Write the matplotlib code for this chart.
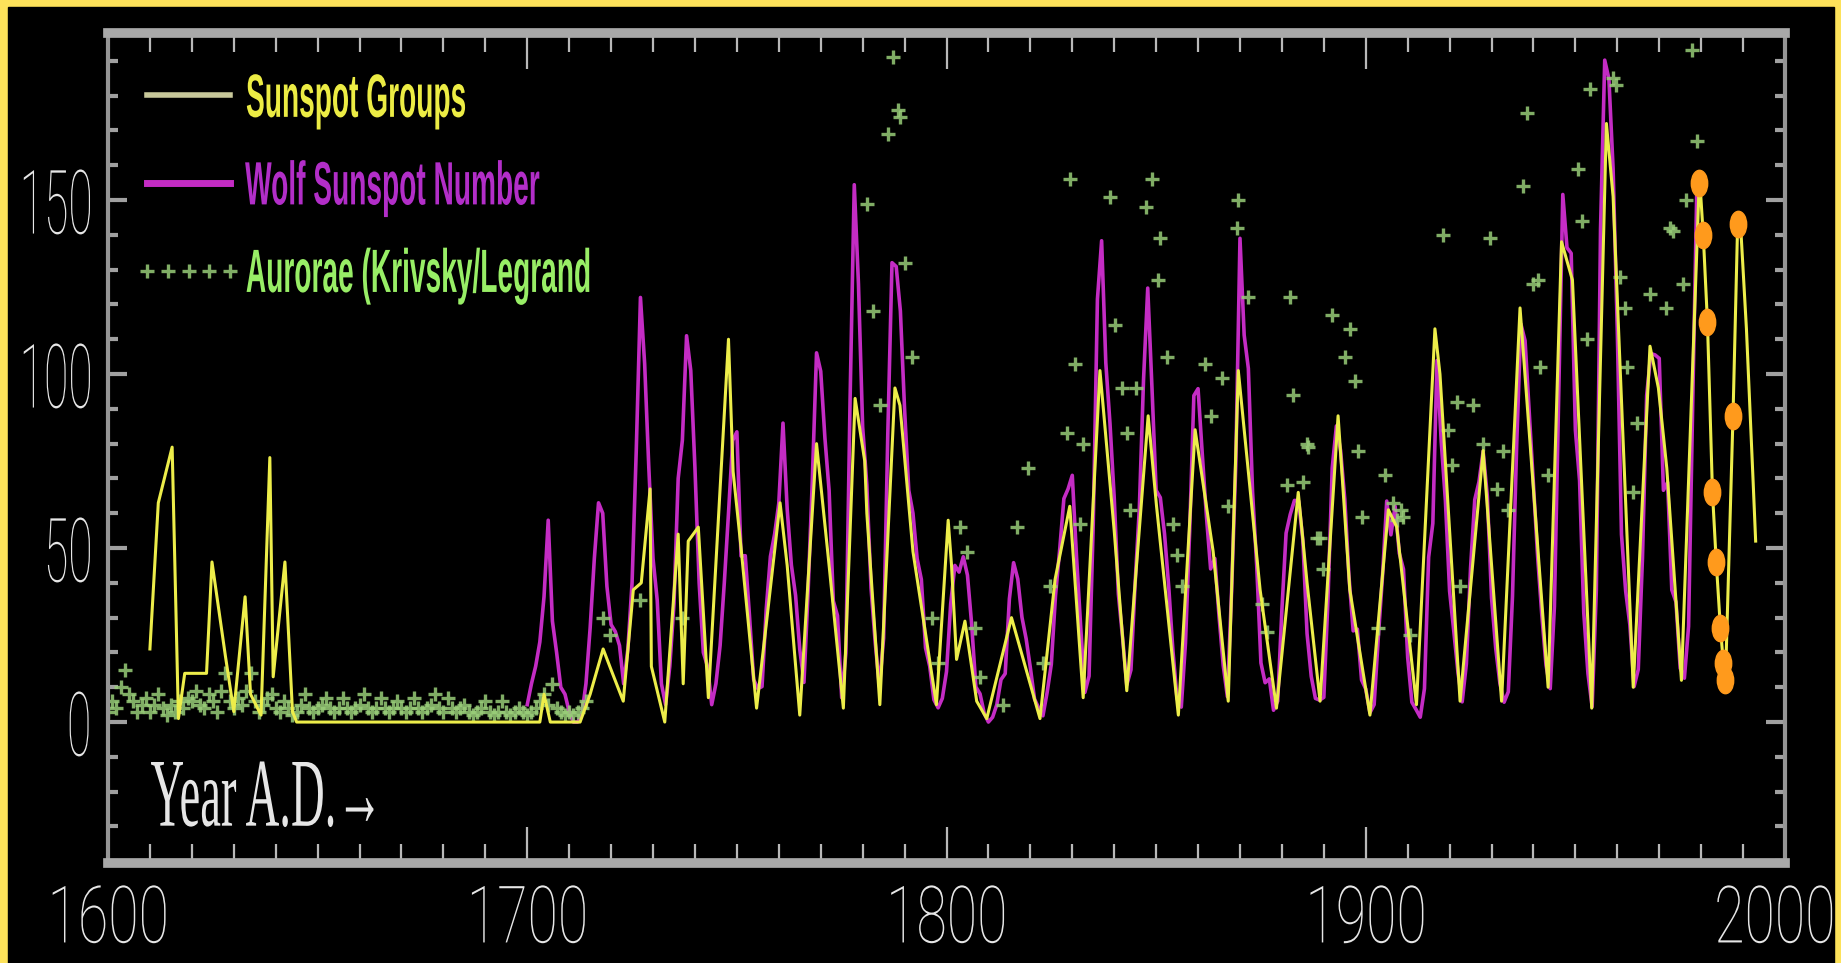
import matplotlib
matplotlib.use('Agg')
import matplotlib.pyplot as plt
from matplotlib import font_manager, patheffects
from matplotlib.patches import Rectangle
from matplotlib.path import Path
from matplotlib.transforms import Affine2D

# Wolf sunspot number, yearly means
wolf_years = list(range(1700, 1980))
wolf_values = [
    5, 11, 16, 23, 36, 58, 29, 20, 10, 8,
    3, 0, 0, 2, 11, 27, 47, 63, 60, 39,
    28, 26, 22, 11, 21, 40, 78, 122, 103, 73,
    47, 35, 11, 5, 16, 34, 70, 81, 111, 101,
    73, 40, 20, 16, 5, 11, 22, 40, 60, 80.9,
    83.4, 47.7, 47.8, 30.7, 12.2, 9.6, 10.2, 32.4, 47.6, 54.0,
    62.9, 85.9, 61.2, 45.1, 36.4, 20.9, 11.4, 37.8, 69.8, 106.1,
    100.8, 81.6, 66.5, 34.8, 30.6, 7.0, 19.8, 92.5, 154.4, 125.9,
    84.8, 68.1, 38.5, 22.8, 10.2, 24.1, 82.9, 132.0, 130.9, 118.1,
    89.9, 66.6, 60.0, 46.9, 41.0, 21.3, 16.0, 6.4, 4.1, 6.8,
    14.5, 34.0, 45.0, 43.1, 47.5, 42.2, 28.1, 10.1, 8.1, 2.5,
    0.0, 1.4, 5.0, 12.2, 13.9, 35.4, 45.8, 41.1, 30.1, 23.9,
    15.6, 6.6, 4.0, 1.8, 8.5, 16.6, 36.3, 49.6, 64.2, 67.0,
    70.9, 47.8, 27.5, 8.5, 13.2, 56.9, 121.5, 138.3, 103.2, 85.7,
    64.6, 36.7, 24.2, 10.7, 15.0, 40.1, 61.5, 98.5, 124.7, 96.3,
    66.6, 64.5, 54.1, 39.0, 20.6, 6.7, 4.3, 22.7, 54.8, 93.8,
    95.8, 77.2, 59.1, 44.0, 47.0, 30.5, 16.3, 7.3, 37.6, 74.0,
    139.0, 111.2, 101.6, 66.2, 44.7, 17.0, 11.3, 12.4, 3.4, 6.0,
    32.3, 54.3, 59.7, 63.7, 63.5, 52.2, 25.4, 13.1, 6.8, 6.3,
    7.1, 35.6, 73.0, 85.1, 78.0, 64.0, 41.8, 26.2, 26.7, 12.1,
    9.5, 2.7, 5.0, 24.4, 42.0, 63.5, 53.8, 62.0, 48.5, 43.9,
    18.6, 5.7, 3.6, 1.4, 9.6, 47.4, 57.1, 103.9, 80.6, 63.6,
    37.6, 26.1, 14.2, 5.8, 16.7, 44.3, 63.9, 69.0, 77.8, 64.9,
    35.7, 21.2, 11.1, 5.7, 8.7, 36.1, 79.7, 114.4, 109.6, 88.8,
    67.8, 47.5, 30.6, 16.3, 9.6, 33.2, 92.6, 151.6, 136.3, 134.7,
    83.9, 69.4, 31.5, 13.9, 4.4, 38.0, 141.7, 190.2, 184.8, 159.0,
    112.3, 53.9, 37.6, 27.9, 10.2, 15.1, 47.0, 93.8, 105.9, 105.5,
    104.5, 66.6, 68.9, 38.0, 34.5, 15.5, 12.6, 27.5, 92.5, 155.4,
]

# sunspot groups (turning points)
group_years = [
    1610, 1612, 1615.3, 1616.8, 1618.3, 1623.5, 1624.8, 1628, 1630, 1632.7,
    1634, 1636.5, 1638.6, 1639.4, 1642.2, 1644, 1645, 1703, 1704, 1705.5,
    1712.6, 1715, 1718.1, 1720, 1722.9, 1725.3, 1727.2, 1729.3, 1729.6, 1732.8,
    1736, 1737.2, 1738.4, 1740.8, 1743.2, 1748, 1749.1, 1751, 1754.7,
    1757, 1760.3, 1762, 1765, 1769, 1772, 1775.4, 1778.2, 1780.5, 1781,
    1784.1, 1787.7, 1788.9, 1792, 1797.6, 1800.4, 1801.2, 1802.4, 1804.4, 1807.2, 1809.6,
    1815.5, 1822.3, 1825.9, 1829.4, 1832.6, 1836.6, 1840, 1843, 1848.1, 1850.1,
    1855.3, 1859.3, 1863.6, 1867.2, 1869.6, 1874.8, 1878.7, 1883.9, 1886, 1889.1,
    1893.4, 1896.2, 1901, 1905.4, 1907.4, 1912.1, 1916.5, 1917.7, 1922.5, 1928,
    1932.4, 1936.8, 1943.5, 1946.7, 1949.3, 1953.9, 1957.4, 1959, 1963.8, 1967.8,
    1969.8, 1971.8, 1975.3, 1979.6, 1980.5, 1981.5, 1982.7, 1983.6, 1984.6, 1985.3,
    1985.8, 1987.6, 1988.7, 1989.3, 1990.8, 1992.4, 1993,
]
group_values = [
    21, 63, 79, 1, 14, 14, 46, 19, 3, 36,
    8, 2, 76, 13, 46, 3, 0, 0, 8, 0,
    0, 8, 21, 15, 6, 38, 40, 67, 16, 0,
    54, 11, 52, 56, 7, 110, 72, 50, 4,
    28, 63, 45, 2, 80, 45, 4, 93, 75, 60,
    5, 96, 91, 49, 5, 58, 45, 18, 29, 6, 1,
    30, 1, 41, 62, 7, 101, 55, 9, 88, 62,
    2, 84, 49, 6, 101, 38, 4, 66, 40, 6,
    88, 38, 2, 61, 56, 5, 113, 100, 6, 78,
    6, 119, 10, 138, 127, 4, 172, 151, 10, 108,
    96, 73, 12, 157, 140, 115, 66, 46, 27, 17,
    12, 88, 143, 145, 113, 69, 52,
]

# aurorae counts (Krivsky/Legrand)
aurora_years = list(range(1600, 1715)) + [
    1718, 1719.7, 1726.9, 1736.8,
    1781, 1782.5, 1784.1, 1786.1, 1787.3, 1788.5, 1788.9, 1790.1, 1791.7,
    1796.5, 1798, 1803.2, 1804.8, 1806.8, 1808, 1813.5, 1816.7, 1819.5,
    1823.1, 1824.7, 1828.7, 1829.4, 1830.6, 1831.8, 1832.6,
    1839, 1840.2, 1841.8, 1843, 1843.8, 1845.3, 1847.7, 1848.9, 1850.5, 1850.9,
    1852.5, 1854.1, 1854.9, 1856.1,
    1861.6, 1863.2, 1865.6, 1867.2, 1869.2, 1869.6, 1872,
    1875.2, 1876.4, 1881.1, 1881.9, 1882.7, 1885.1, 1885.9, 1886.3, 1888.3, 1889.1, 1889.9,
    1891.9, 1895, 1896.2, 1897.4, 1898.2, 1899, 1903, 1904.6, 1906.5, 1907.5, 1908.5, 1909, 1910.5,
    1918.5, 1919.7, 1920.5, 1921.7, 1922.5, 1925.6, 1928, 1929.6, 1931.2, 1932.8, 1934,
    1937.6, 1938.4, 1940, 1941.1, 1941.5, 1943.5, 1950.7, 1951.5, 1952.7, 1953.5,
    1958.9, 1959.8, 1960.6, 1961.8, 1962.4, 1963.8, 1964.6, 1967.8, 1971.7, 1972.5,
    1973.3, 1975.7, 1976.5, 1977.7, 1978.9,
]
aurora_values = [
    3, 6, 4, 10, 15, 8, 6, 3, 5, 7,
    3, 5, 8, 4, 2, 5, 3, 6, 4, 7,
    6, 9, 5, 4, 8, 6, 3, 9, 14, 6,
    4, 7, 5, 9, 14, 6, 3, 5, 7, 8,
    4, 3, 6, 4, 2, 3, 5, 8, 4, 3,
    4, 5, 7, 4, 3, 4, 7, 4, 3, 4,
    5, 8, 4, 3, 4, 7, 4, 3, 4, 6,
    4, 3, 4, 7, 4, 3, 4, 5, 8, 4,
    3, 7, 4, 3, 4, 5, 3, 2, 3, 4,
    6, 3, 2, 3, 6, 3, 2, 3, 4, 3,
    2, 3, 4, 6, 8, 5, 11, 4, 3, 2,
    3, 2, 3, 4, 6,
] + [
    30, 25, 35, 30,
    149, 118, 91, 169, 191, 176, 174, 132, 105,
    30, 17, 56, 49, 27, 13, 5, 56, 73,
    17, 39, 83, 156, 103, 57, 80,
    151, 114, 96, 83, 61, 96, 148, 156, 127, 139,
    105, 57, 48, 39,
    103, 88, 99, 62, 142, 150, 122,
    34, 26, 68, 122, 94, 69, 80, 79, 53, 53, 44,
    117, 105, 113, 98, 78, 59, 27, 71, 63, 58, 61, 59, 25,
    140, 84, 74, 92, 39, 91, 80, 139, 67, 78, 61,
    154, 175, 126, 127, 102, 71, 159, 144, 110, 182,
    185, 183, 128, 119, 102, 66, 86, 123, 119, 142,
    141, 126, 150, 193, 167,
]

# recent yearly values highlighted in orange
orange_years = [1979.6, 1980.5, 1981.5, 1982.7, 1983.6, 1984.6, 1985.3, 1985.8, 1987.6, 1988.7]
orange_values = [155, 140, 115, 66, 46, 27, 17, 12, 88, 143]

x_ticks = [1600, 1700, 1800, 1900, 2000]
y_ticks = [0, 50, 100, 150]

installed = {f.name for f in font_manager.fontManager.ttflist}


def pick(*names):
    for n in names:
        if n in installed:
            return n
    return 'DejaVu Sans'


class Squeeze(patheffects.AbstractPathEffect):
    """Narrow the glyphs of a text, keeping one edge (anchor 0..1) in place."""

    def __init__(self, sx, anchor=0.0):
        super().__init__()
        self.sx = sx
        self.anchor = anchor

    def draw_path(self, renderer, gc, tpath, affine, rgbFace=None):
        ext = tpath.get_extents()
        x0 = ext.x0 + self.anchor * ext.width
        narrow = Affine2D().translate(-x0, 0).scale(self.sx, 1).translate(x0, 0)
        renderer.draw_path(gc, tpath, narrow + affine, rgbFace)


num_font = pick('Roboto', 'Liberation Sans', 'DejaVu Sans')
serif_font = pick('Liberation Serif', 'DejaVu Serif')
label_font = pick('Liberation Sans', 'Roboto', 'DejaVu Sans')

W, H = 1841, 963
fig = plt.figure(figsize=(W / 100, H / 100), dpi=100)
fig.patch.set_facecolor('#fde25a')
fig.add_artist(Rectangle((8 / W, 0), (1834 - 8) / W, (H - 7) / H,
                         transform=fig.transFigure, color='black', zorder=-1))

ax = fig.add_axes([108 / W, 100 / H, 1677 / W, 830 / H])
ax.set_facecolor('black')

ax.plot(wolf_years, wolf_values, color='#c42cc4', lw=2.6, zorder=2,
        label='Wolf Sunspot Number')
ax.plot(aurora_years, aurora_values, ls='none', marker='+', ms=10, mew=2.4,
        color='#98cc78', alpha=0.85, zorder=2.5, label='Aurorae (Krivsky/Legrand')
ax.plot(group_years, group_values, color='#eded4a', lw=2.2, zorder=3,
        label='Sunspot Groups')

circ = Path.unit_circle()
oval = Path(circ.vertices * [0.62, 1.0], circ.codes)
ax.plot(orange_years, orange_values, ls='none', marker=oval, ms=19,
        color='#ff9a1c', zorder=5)

ax.set_xlim(1600, 2000)
ax.set_ylim(-40.5, 198)

# spines
for side in ('top', 'bottom'):
    ax.spines[side].set_color('#a8a8a8')
    ax.spines[side].set_linewidth(7)
for side in ('left', 'right'):
    ax.spines[side].set_color('#959595')
    ax.spines[side].set_linewidth(3)

# ticks
ax.set_xticks(x_ticks)
ax.set_xticks(range(1610, 2000, 10), minor=True)
ax.set_yticks(y_ticks)
ax.set_yticks([v for v in range(-40, 200, 10) if v % 50], minor=True)
ax.tick_params(axis='x', which='major', direction='in', length=26, width=1.6,
               color='#b8b8b8', top=True, pad=14)
ax.tick_params(axis='x', which='minor', direction='in', length=14, width=1.6,
               color='#b8b8b8', top=True)
ax.tick_params(axis='y', which='major', direction='in', length=14, width=3,
               color='#a0a0a0', right=True, pad=14)
ax.tick_params(axis='y', which='minor', direction='in', length=7, width=3,
               color='#a0a0a0', right=True)

ax.set_xticklabels([str(v) for v in x_ticks], fontsize=57, color='#e6e6e6',
                   family=num_font, fontweight='light')
ax.set_yticklabels([str(v) for v in y_ticks], fontsize=64, color='#e6e6e6',
                   family=num_font, fontweight='light')

# the glyphs are drawn narrow; labels at the edges are re-anchored so that
# their full text box stays inside the picture
renderer = fig.canvas.get_renderer()
sx_x, sx_y = 0.70, 0.50
xlabels = ax.get_xticklabels()
for t in xlabels[:-1]:
    t.set_path_effects([Squeeze(sx_x, 0.5)])
last = xlabels[-1]
last.set_ha('right')
last.set_transform(last.get_transform() + Affine2D().translate(1837 - ax.bbox.x1, 0))
last.set_path_effects([Squeeze(sx_x, 1.0)])
for t in ax.get_yticklabels():
    w = t.get_window_extent(renderer).width
    t.set_ha('left')
    t.set_transform(t.get_transform() + Affine2D().translate(-sx_y * w, 0))
    t.set_path_effects([Squeeze(sx_y, 0.0)])

ax.text(0.025, 0.073, 'Year A.D.\u2192', transform=ax.transAxes, fontsize=70,
        color='#e6e6e6', family=[serif_font, 'DejaVu Serif'], va='center', ha='left',
        path_effects=[Squeeze(0.48, 0.0)])

# legend
leg = ax.legend(loc='upper left', bbox_to_anchor=(0.0125, 0.952), frameon=False,
                handles=[ax.lines[2], ax.lines[0], ax.lines[1]], numpoints=5,
                prop={'family': label_font, 'weight': 'bold', 'size': 44},
                handlelength=1.95, handletextpad=-0.05, labelspacing=0.5,
                borderpad=0, borderaxespad=0)
text_colors = ['#ecec44', '#b22ec8', '#98ee66']
for t, c in zip(leg.get_texts(), text_colors):
    t.set_color(c)
    t.set_path_effects([Squeeze(0.46, 0.0)])
leg.legend_handles[0].set_color('#c8c89a')
leg.legend_handles[0].set_linewidth(4)
leg.legend_handles[1].set_linewidth(5)

fig.savefig('out.png', dpi=100, facecolor=fig.get_facecolor())
